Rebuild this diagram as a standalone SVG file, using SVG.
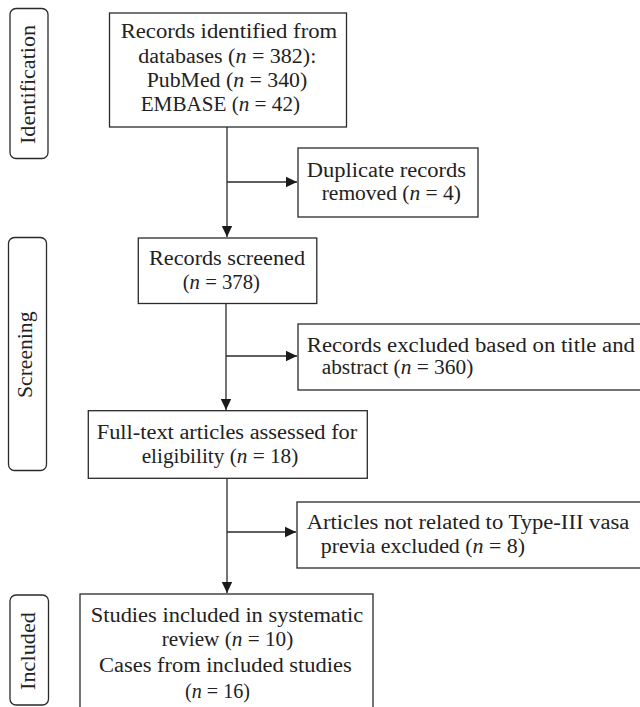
<svg xmlns="http://www.w3.org/2000/svg" width="640" height="707" viewBox="0 0 640 707">
<defs>
<style>
.box{fill:#fff;stroke:#2a2a2a;stroke-width:1.3}
.lab{fill:#fff;stroke:#2a2a2a;stroke-width:1.3}
.t{font-family:"Liberation Serif","Times New Roman",serif;font-size:20.5px;fill:#222}
.i{font-style:italic}
.c{fill:none;stroke:#2a2a2a;stroke-width:1.3}
</style>
<marker id="ah" markerUnits="userSpaceOnUse" markerWidth="12" markerHeight="12" viewBox="0 0 12 12" refX="11" refY="6" orient="auto">
<path d="M0,0.8 L11,6 L0,11.2 Z" fill="#1a1a1a"/>
</marker>
</defs>
<rect width="640" height="707" fill="#fff"/>

<g id="stage-identification">
<rect class="lab" x="10" y="8.5" width="38" height="150" rx="6"/>
<text class="t" transform="translate(34.5,144) rotate(-90)" x="0" y="0" textLength="119" lengthAdjust="spacingAndGlyphs">Identification</text>
</g>
<g id="stage-screening">
<rect class="lab" x="8.5" y="237.5" width="38" height="233" rx="6"/>
<text class="t" transform="translate(32,398) rotate(-90)" x="0" y="0" textLength="86.5" lengthAdjust="spacingAndGlyphs">Screening</text>
</g>
<g id="stage-included">
<rect class="lab" x="10" y="595" width="38.5" height="110" rx="6"/>
<text class="t" transform="translate(35,690) rotate(-90)" x="0" y="0" textLength="78" lengthAdjust="spacingAndGlyphs">Included</text>
</g>

<g id="connectors">
<line class="c" x1="227" y1="127" x2="227" y2="237" marker-end="url(#ah)"/>
<line class="c" x1="227" y1="182" x2="297" y2="182" marker-end="url(#ah)"/>
<line class="c" x1="226" y1="304" x2="226" y2="410" marker-end="url(#ah)"/>
<line class="c" x1="226" y1="356" x2="297" y2="356" marker-end="url(#ah)"/>
<line class="c" x1="227" y1="478" x2="227" y2="593" marker-end="url(#ah)"/>
<line class="c" x1="227" y1="532" x2="296" y2="532" marker-end="url(#ah)"/>
</g>

<g id="records-identified">
<rect class="box" x="109.5" y="13" width="237" height="114"/>
<text class="t" x="120.7" y="38" textLength="216.5" lengthAdjust="spacingAndGlyphs">Records identified from</text>
<text class="t" x="138.3" y="62.5" textLength="178" lengthAdjust="spacingAndGlyphs">databases (<tspan class="i">n</tspan> = 382):</text>
<text class="t" x="146.7" y="87" textLength="160.5" lengthAdjust="spacingAndGlyphs">PubMed (<tspan class="i">n</tspan> = 340)</text>
<text class="t" x="140.7" y="110.5" textLength="159.3" lengthAdjust="spacingAndGlyphs">EMBASE (<tspan class="i">n</tspan> = 42)</text>
</g>

<g id="duplicates-removed">
<rect class="box" x="298" y="148" width="180" height="69"/>
<text class="t" x="306.7" y="176.5" textLength="159.3" lengthAdjust="spacingAndGlyphs">Duplicate records</text>
<text class="t" x="321.7" y="200" textLength="139.3" lengthAdjust="spacingAndGlyphs">removed (<tspan class="i">n</tspan> = 4)</text>
</g>

<g id="records-screened">
<rect class="box" x="138.3" y="238" width="178.5" height="65.5"/>
<text class="t" x="149" y="265" textLength="156" lengthAdjust="spacingAndGlyphs">Records screened</text>
<text class="t" x="182.7" y="289.3" textLength="77.3" lengthAdjust="spacingAndGlyphs">(<tspan class="i">n</tspan> = 378)</text>
</g>

<g id="records-excluded">
<rect class="box" x="298" y="324" width="360" height="66"/>
<text class="t" x="306.7" y="351.7" textLength="328.3" lengthAdjust="spacingAndGlyphs">Records excluded based on title and</text>
<text class="t" x="321.7" y="374.3" textLength="151.6" lengthAdjust="spacingAndGlyphs">abstract (<tspan class="i">n</tspan> = 360)</text>
</g>

<g id="full-text-assessed">
<rect class="box" x="88.3" y="410.7" width="279" height="67.6"/>
<text class="t" x="96.7" y="439.3" textLength="260.6" lengthAdjust="spacingAndGlyphs">Full-text articles assessed for</text>
<text class="t" x="141.7" y="462.7" textLength="156.6" lengthAdjust="spacingAndGlyphs">eligibility (<tspan class="i">n</tspan> = 18)</text>
</g>

<g id="articles-excluded">
<rect class="box" x="297" y="502" width="360" height="66"/>
<text class="t" x="306.7" y="529.3" textLength="322.6" lengthAdjust="spacingAndGlyphs">Articles not related to Type-III vasa</text>
<text class="t" x="320.7" y="552.7" textLength="204.3" lengthAdjust="spacingAndGlyphs">previa excluded (<tspan class="i">n</tspan> = 8)</text>
</g>

<g id="studies-included">
<rect class="box" x="80" y="594" width="293" height="120"/>
<text class="t" x="90.7" y="621.7" textLength="272.6" lengthAdjust="spacingAndGlyphs">Studies included in systematic</text>
<text class="t" x="161.7" y="646" textLength="131.6" lengthAdjust="spacingAndGlyphs">review (<tspan class="i">n</tspan> = 10)</text>
<text class="t" x="99" y="671.7" textLength="252.7" lengthAdjust="spacingAndGlyphs">Cases from included studies</text>
<text class="t" x="185" y="698.3" textLength="65" lengthAdjust="spacingAndGlyphs">(<tspan class="i">n</tspan> = 16)</text>
</g>
</svg>
